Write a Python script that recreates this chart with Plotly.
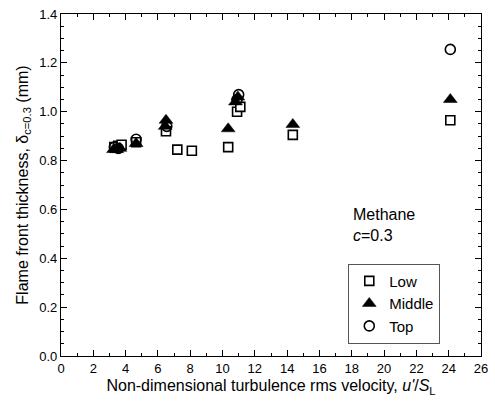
import plotly.graph_objects as go

low_x = [3.3, 3.55, 3.75, 4.65, 6.5, 7.2, 8.1, 10.35, 10.9, 11.1, 14.35, 24.1]
low_y = [0.855, 0.86, 0.865, 0.875, 0.92, 0.845, 0.84, 0.855, 1.0, 1.02, 0.905, 0.965]
mid_x = [3.25, 3.45, 3.65, 4.65, 6.45, 6.5, 10.35, 10.8, 10.95, 14.35, 24.1]
mid_y = [0.845, 0.845, 0.85, 0.87, 0.94, 0.965, 0.93, 1.04, 1.06, 0.948, 1.05]
top_x = [3.3, 3.55, 4.65, 6.55, 10.9, 11.0, 24.1]
top_y = [0.855, 0.85, 0.887, 0.94, 1.05, 1.07, 1.255]

FONT = "Liberation Sans, Arial"

fig = go.Figure()
fig.add_trace(go.Scatter(x=low_x, y=low_y, mode="markers", name="Low",
                         marker=dict(symbol="square", size=9, color="white",
                                     line=dict(color="black", width=1.6))))
fig.add_trace(go.Scatter(x=mid_x, y=mid_y, mode="markers", name="Middle",
                         marker=dict(symbol="triangle-up", size=12, color="black",
                                     line=dict(color="black", width=0.5))))
fig.add_trace(go.Scatter(x=top_x, y=top_y, mode="markers", name="Top",
                         marker=dict(symbol="circle-open", size=10, color="black",
                                     line=dict(color="black", width=1.6))))

axis_common = dict(showline=True, linecolor="black", linewidth=1.2, mirror="allticks",
                   ticks="inside", ticklen=6, tickcolor="black", tickwidth=1,
                   showgrid=False, zeroline=False,
                   tickfont=dict(family=FONT, size=13, color="black"))

fig.update_xaxes(range=[0, 26], dtick=2, tick0=0,
                 minor=dict(ticks="inside", ticklen=3, dtick=1, tickcolor="black", showgrid=False),
                 title=dict(text="Non-dimensional turbulence rms velocity, <i>u'</i>/<i>S</i><sub>L</sub>",
                            font=dict(family=FONT, size=16, color="black"),
                            standoff=5),
                 **axis_common)
fig.update_yaxes(range=[0, 1.4], dtick=0.2, tick0=0, tickformat=".1f",
                 minor=dict(ticks="inside", ticklen=3, dtick=0.05, tickcolor="black", showgrid=False),
                 title=dict(text="Flame front thickness, δ<sub>c=0.3</sub> (mm)",
                            font=dict(family=FONT, size=16, color="black"),
                            standoff=6),
                 **axis_common)

fig.add_annotation(x=0.691, y=0.413, xref="paper", yref="paper", xanchor="left", yanchor="middle",
                   text="Methane", showarrow=False,
                   font=dict(family=FONT, size=16, color="black"))
fig.add_annotation(x=0.691, y=0.352, xref="paper", yref="paper", xanchor="left", yanchor="middle",
                   text="<i>c</i>=0.3", showarrow=False,
                   font=dict(family=FONT, size=16, color="black"))

fig.update_layout(
    width=495, height=408,
    margin=dict(l=61, r=7, t=12, b=52),
    plot_bgcolor="white", paper_bgcolor="white",
    legend=dict(x=0.684, y=0.270, xanchor="left", yanchor="top",
                bordercolor="#555555", borderwidth=1, bgcolor="white",
                font=dict(family=FONT, size=15, color="black"),
                tracegroupgap=0, itemwidth=30),
    showlegend=True,
)

fig.write_html("out.html")
